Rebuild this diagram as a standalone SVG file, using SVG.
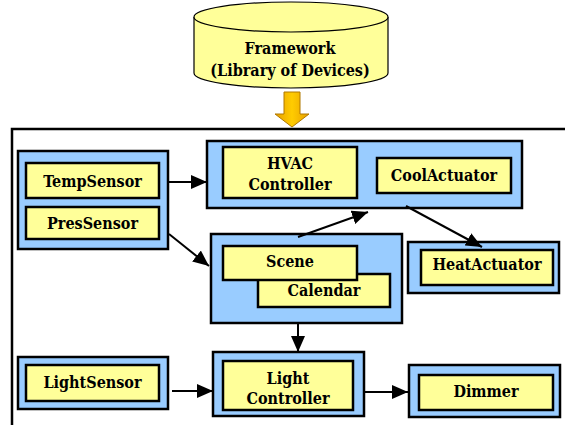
<svg xmlns="http://www.w3.org/2000/svg" width="565" height="425" viewBox="0 0 565 425">
<defs>
<style>
.outer{fill:#99CCFF;stroke:#000;stroke-width:2.5}
.inner{fill:#FFFF99;stroke:#000;stroke-width:2.5}
.t{font-family:"DejaVu Serif Condensed","DejaVu Serif","Liberation Serif",serif;font-weight:bold;font-size:16px;fill:#000;text-anchor:middle}
.c{stroke:#000;stroke-width:2;fill:none;marker-end:url(#ah)}
</style>
<marker id="ah" markerUnits="userSpaceOnUse" markerWidth="16" markerHeight="14" refX="16" refY="7" orient="auto">
<path d="M0,0 L16,7 L0,14 z" fill="#000"/>
</marker>
<linearGradient id="og" x1="0" y1="0" x2="1" y2="0">
<stop offset="0" stop-color="#E8A000"/>
<stop offset="0.5" stop-color="#FFCC00"/>
<stop offset="1" stop-color="#E8A000"/>
</linearGradient>
</defs>
<rect width="565" height="425" fill="#fff"/>

<g id="framework">
<path d="M194,17 L194,73 A97,15 0 0 0 388,73 L388,17" fill="#FFFF99" stroke="#000" stroke-width="1.2"/>
<ellipse cx="291" cy="17" rx="97" ry="15" fill="#FFFF99" stroke="#000" stroke-width="1.2"/>
<text class="t" x="290" y="54">Framework</text>
<text class="t" x="290" y="76">(Library of Devices)</text>
</g>

<g id="frame-arrow">
<path d="M284,92 L300,92 L300,114 L309,114 L292,127 L275,114 L284,114 z" fill="url(#og)" stroke="#B07800" stroke-width="1"/>
</g>

<g id="frame">
<path d="M565,129 L12,129 L12,425" fill="none" stroke="#000" stroke-width="2.5"/>
</g>

<g id="sensors">
<rect class="outer" x="18" y="151" width="150" height="98"/>
<g id="TempSensor">
<rect class="inner" x="26" y="163" width="133" height="35"/>
<text class="t" x="92.5" y="186.5">TempSensor</text>
</g>
<g id="PresSensor">
<rect class="inner" x="26" y="207" width="133" height="32"/>
<text class="t" x="92.5" y="229">PresSensor</text>
</g>
</g>

<g id="hvac">
<rect class="outer" x="207" y="141" width="315" height="67"/>
<g id="HVACController">
<rect class="inner" x="223" y="147" width="134" height="51"/>
<text class="t" x="290" y="168.5">HVAC</text>
<text class="t" x="290" y="189.5">Controller</text>
</g>
<g id="CoolActuator">
<rect class="inner" x="377" y="158" width="134" height="35"/>
<text class="t" x="444" y="181">CoolActuator</text>
</g>
</g>

<g id="scene-group">
<rect class="outer" x="211" y="234" width="191" height="89"/>
<g id="Calendar">
<rect class="inner" x="258" y="274" width="132" height="33"/>
<text class="t" x="324" y="296">Calendar</text>
</g>
<g id="Scene">
<rect class="inner" x="223" y="246" width="134" height="34"/>
<text class="t" x="290" y="267">Scene</text>
</g>
</g>

<g id="HeatActuator">
<rect class="outer" x="408" y="242" width="151" height="51"/>
<rect class="inner" x="421" y="250" width="132" height="35"/>
<text class="t" x="487" y="269.5">HeatActuator</text>
</g>

<g id="LightSensor">
<rect class="outer" x="18" y="357" width="150" height="52"/>
<rect class="inner" x="26" y="365" width="133" height="36"/>
<text class="t" x="92.5" y="387.5">LightSensor</text>
</g>

<g id="LightController">
<rect class="outer" x="213" y="352" width="151" height="64"/>
<rect class="inner" x="223" y="361" width="130" height="49"/>
<text class="t" x="288" y="383.5">Light</text>
<text class="t" x="288" y="403.5">Controller</text>
</g>

<g id="Dimmer">
<rect class="outer" x="409" y="365" width="151" height="52"/>
<rect class="inner" x="419" y="375" width="134" height="35"/>
<text class="t" x="486" y="397">Dimmer</text>
</g>

<g id="connectors">
<line class="c" x1="168" y1="182" x2="207" y2="182"/>
<line class="c" x1="169" y1="234" x2="209" y2="266"/>
<line class="c" x1="298" y1="237" x2="368" y2="212"/>
<line class="c" x1="406" y1="206" x2="482" y2="247"/>
<line class="c" x1="298" y1="323" x2="298" y2="352"/>
<line class="c" x1="172" y1="391" x2="213" y2="391"/>
<line class="c" x1="364" y1="392" x2="408" y2="392"/>
</g>
</svg>
